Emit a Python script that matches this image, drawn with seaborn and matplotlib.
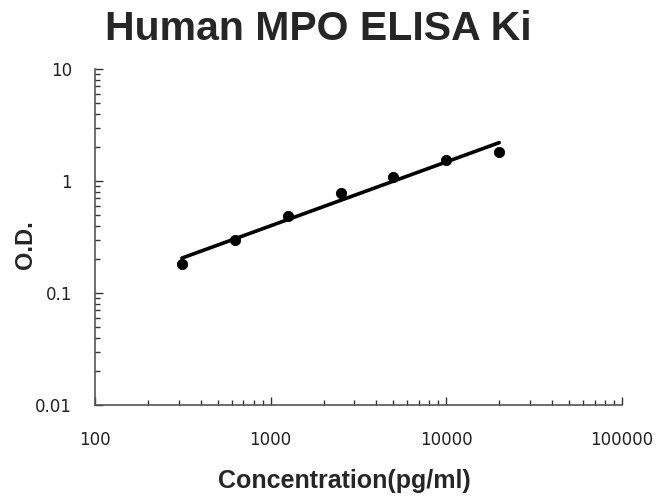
import numpy as np
import pandas as pd
import matplotlib
matplotlib.use("Agg")
import matplotlib.pyplot as plt
import matplotlib.ticker as mticker
import seaborn as sns

# standard curve points
concentration = [312.5, 625, 1250, 2500, 5000, 10000, 20000]
od_values = [0.18, 0.30, 0.49, 0.78, 1.08, 1.55, 1.82]

# fitted trend line end points (straight in log-log)
fit_conc = [312.5, 20000]
fit_od = [0.205, 2.2]

x_ticks = [100, 1000, 10000, 100000]
y_ticks = [0.01, 0.1, 1, 10]

sns.set_theme(style="white")
plt.rcParams["font.family"] = ["Liberation Sans", "DejaVu Sans"]

points = pd.DataFrame({"conc": concentration, "od": od_values})
fit = pd.DataFrame({"conc": fit_conc, "od": fit_od})

fig = plt.figure(figsize=(6.58, 4.97), dpi=100)
ax = fig.add_axes([95 / 658, 1 - 405 / 497, (622 - 95) / 658, (405 - 69) / 497])

sns.lineplot(data=fit, x="conc", y="od", color="black", linewidth=2.6, ax=ax)
sns.scatterplot(data=points, x="conc", y="od", color="black", s=55,
                edgecolor="black", zorder=3, ax=ax)

ax.set_xscale("log")
ax.set_yscale("log")
ax.set_xlim(100, 100000)
ax.set_ylim(0.01, 10)
ax.set_xticks(x_ticks)
ax.set_yticks(y_ticks)
ax.xaxis.set_major_formatter(mticker.FuncFormatter(lambda v, p: f"{v:.0f}"))
ax.yaxis.set_major_formatter(mticker.FuncFormatter(lambda v, p: f"{v:g}"))
ax.xaxis.set_minor_locator(mticker.LogLocator(base=10, subs=np.arange(2, 10)))
ax.yaxis.set_minor_locator(mticker.LogLocator(base=10, subs=np.arange(2, 10)))
ax.xaxis.set_minor_formatter(mticker.NullFormatter())
ax.yaxis.set_minor_formatter(mticker.NullFormatter())

for side in ["top", "right"]:
    ax.spines[side].set_visible(False)
for side in ["left", "bottom"]:
    ax.spines[side].set_color("#555555")
    ax.spines[side].set_linewidth(1.2)

ax.tick_params(axis="both", which="both", direction="in", bottom=True, left=True,
               color="#333333", width=1.0)
ax.tick_params(axis="both", which="major", length=5.5, labelsize=12,
               labelcolor="#222222")
ax.tick_params(axis="both", which="minor", length=3.5)
for lab in ax.get_xticklabels() + ax.get_yticklabels():
    lab.set_fontfamily("DejaVu Sans")
ax.tick_params(axis="x", which="major", pad=19)
ax.tick_params(axis="y", which="major", pad=16.5)

ax.set_xlabel("Concentration(pg/ml)", fontsize=18, fontweight="bold")
ax.xaxis.set_label_coords(0.474, -0.19)
ax.set_ylabel("O.D.", fontsize=17, fontweight="bold")
ax.yaxis.set_label_coords(-0.11, 0.476)
fig.text(318 / 658, 1 - 10 / 497, "Human MPO ELISA Ki", fontsize=29.5,
         fontweight="bold", ha="center", va="top")

fig.savefig("out.png", dpi=100, facecolor="white")
